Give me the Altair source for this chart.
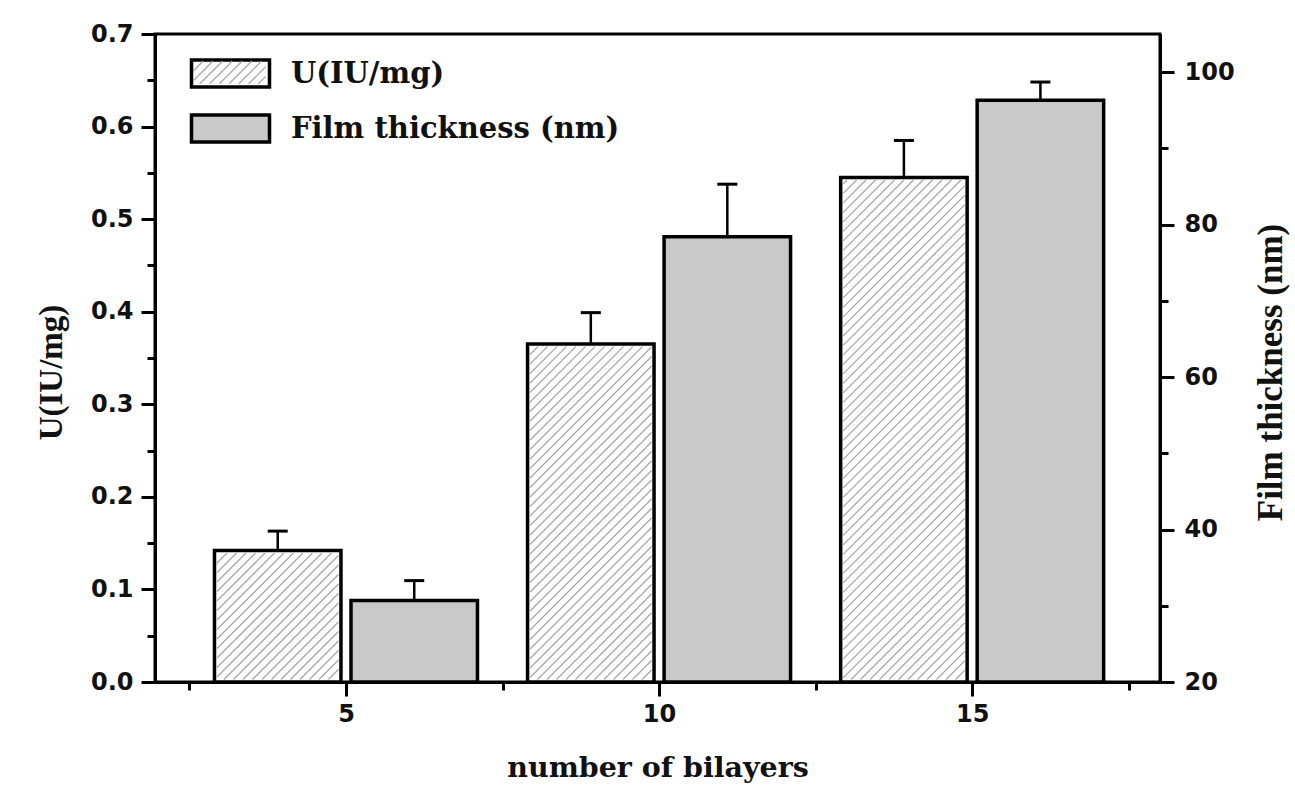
import altair as alt
import numpy as np
import pandas as pd

# ---- data -------------------------------------------------------------
bilayers = [5, 10, 15]
activity = [0.142, 0.365, 0.545]          # U (IU/mg)
activity_err = [0.021, 0.034, 0.040]
thickness = [30.7, 78.4, 96.3]            # film thickness (nm)
thickness_err = [2.6, 6.9, 2.4]

series_names = ["U(IU/mg)", "Film thickness (nm)"]

x_major = [5, 10, 15]
x_minor = [2.5, 7.5, 12.5, 17.5]
u_major = [0.0, 0.1, 0.2, 0.3, 0.4, 0.5, 0.6, 0.7]
u_minor = [0.05, 0.15, 0.25, 0.35, 0.45, 0.55, 0.65]
t_major = [20, 40, 60, 80, 100]
t_minor = [30, 50, 70, 90]

# ---- layout -----------------------------------------------------------
PLOT_W, PLOT_H = 1005, 648
X_DOMAIN = [1.95, 18.0]
U_DOMAIN = [0.0, 0.7]
T_DOMAIN = [20.0, 105.0]
BAR_NEAR, BAR_FAR = 0.08, 2.10   # bar edges, measured from the group position
CAP_HALF = 0.16

GRAY = "#c9c9c9"
HATCH = "#a8a8a8"
INK = "#111111"

px_x = PLOT_W / (X_DOMAIN[1] - X_DOMAIN[0])
px_u = PLOT_H / (U_DOMAIN[1] - U_DOMAIN[0])

u_df = pd.DataFrame({"n": bilayers, "value": activity, "err": activity_err,
                     "series": series_names[0], "pattern": series_names[0]})
t_df = pd.DataFrame({"n": bilayers, "value": thickness, "err": thickness_err,
                     "series": series_names[1]})


def hatch_segments():
    """Diagonal hatch lines clipped to the inside of each U bar."""
    rows = []
    inset, step = 2.5, 9.5
    for n, v in zip(bilayers, activity):
        x0, x1 = n - BAR_FAR, n - BAR_NEAR
        w = (x1 - x0) * px_x
        h = (v - U_DOMAIN[0]) * px_u
        gx = (x0 - X_DOMAIN[0]) * px_x
        for k in range(int(np.floor((gx - h) / step)), int(np.ceil((gx + w) / step)) + 1):
            c = k * step - gx
            xa = max(inset, c + inset)
            xb = min(w - inset, h - inset + c)
            if xb - xa < 0.5:
                continue
            rows.append({"x": x0 + xa / px_x, "x2": x0 + xb / px_x,
                         "y": (xa - c) / px_u, "y2": (xb - c) / px_u})
    return pd.DataFrame(rows)


hatch_df = hatch_segments()

# legend symbols (unit = half of sqrt(symbolSize))
rect_path = "M-2,-0.69H2V0.69H-2Z"


def hatch_path():
    parts = []
    xl, xr, yt = 1.86, 1.86, 0.58
    s = 0.5
    c = -xl - yt
    while c < xr + yt:
        xa = max(-xl, c - yt)
        xb = min(xr, c + yt)
        if xb - xa > 0.03:
            parts.append(f"M{xa:.3f},{c - xa:.3f}L{xb:.3f},{c - xb:.3f}")
        c += s
    return "".join(parts)


# ---- scales / axes ----------------------------------------------------
x_scale = alt.Scale(domain=X_DOMAIN, nice=False, zero=False)
u_scale = alt.Scale(domain=U_DOMAIN, nice=False, zero=False)
t_scale = alt.Scale(domain=T_DOMAIN, nice=False, zero=False)
fill_scale = alt.Scale(domain=series_names, range=["white", GRAY])

AXIS_COMMON = dict(
    grid=False, labelOverlap=False, labelFlush=False,
    labelFont="DejaVu Sans", labelFontWeight="bold", labelFontSize=24, labelColor=INK,
    domainColor="black", domainWidth=3, tickColor="black",
    titleColor=INK, titleFontWeight="bold",
)


def major_minor(test, major, minor):
    return {"condition": {"test": test, "value": major}, "value": minor}


u_test = "abs(datum.value*10 - round(datum.value*10)) < 1e-6"
u_axis = alt.Axis(
    title="U(IU/mg)", orient="left", values=sorted(u_major + u_minor),
    labelExpr=f"{u_test} ? format(datum.value, '.1f') : ''",
    tickSize=major_minor(u_test, 14, 8), tickWidth=major_minor(u_test, 3, 3),
    labelPadding=8, titleFont="Liberation Serif", titleFontSize=33,
    titleAngle=270, titleAlign="center", titleBaseline="middle",
    titleX=-104, titleY=338, **AXIS_COMMON,
)

t_test = "datum.value % 20 == 0"
t_axis = alt.Axis(
    title="Film thickness (nm)", orient="right", values=sorted(t_major + t_minor),
    labelExpr=f"{t_test} ? format(datum.value, 'd') : ''",
    tickSize=major_minor(t_test, 14, 8), tickWidth=major_minor(t_test, 3, 3),
    labelPadding=10, titleFont="Liberation Serif", titleFontSize=35,
    titleAngle=270, titleAlign="center", titleBaseline="middle",
    titleX=110, titleY=338, **AXIS_COMMON,
)

x_test = "datum.value % 5 == 0"
x_axis = alt.Axis(
    title="number of bilayers", orient="bottom", values=sorted(x_major + x_minor),
    labelExpr=f"{x_test} ? format(datum.value, 'd') : ''",
    tickSize=major_minor(x_test, 14, 8), tickWidth=major_minor(x_test, 3, 3),
    labelPadding=6, titleFont="DejaVu Serif", titleFontSize=28.5,
    titleBaseline="middle", titleY=85, **AXIS_COMMON,
)

LEGEND_POS = dict(orient="none", legendX=54, legendY=18, direction="vertical",
                  title=None, padding=0, symbolSize=1521, labelOffset=39,
                  labelFont="DejaVu Serif", labelFontWeight="bold",
                  labelFontSize=29, labelColor=INK, labelLimit=600, rowPadding=13)

fill_legend = alt.Legend(symbolType=rect_path, symbolStrokeColor="black",
                         symbolStrokeWidth=3.5, zindex=0, **LEGEND_POS)
hatch_legend = alt.Legend(labelExpr="''", symbolStrokeColor=HATCH,
                          symbolStrokeWidth=1.3, symbolFillColor="transparent",
                          symbolOpacity=1, zindex=2, **LEGEND_POS)

# ---- U(IU/mg) layers (left axis) ---------------------------------------
u_base = alt.Chart(u_df).transform_calculate(
    left=f"datum.n - {BAR_FAR}", right=f"datum.n - {BAR_NEAR}",
    mid=f"datum.n - {(BAR_FAR + BAR_NEAR) / 2}",
    top="datum.value + datum.err", half="datum.value / 2",
)

# sits under the opaque bars; it only supplies the hatched legend swatch
u_swatch = u_base.mark_point(filled=False, color=HATCH, strokeWidth=1.3, opacity=1, size=4).encode(
    x=alt.X("mid:Q", scale=x_scale, axis=x_axis),
    y=alt.Y("half:Q", scale=u_scale, axis=u_axis),
    shape=alt.Shape("pattern:N", scale=alt.Scale(domain=[series_names[0]], range=[hatch_path()]),
                    legend=hatch_legend),
)

u_bars = u_base.mark_rect(stroke="black", strokeWidth=3.5, strokeJoin="miter").encode(
    x=alt.X("left:Q", scale=x_scale, axis=x_axis),
    x2="right:Q",
    y=alt.Y("value:Q", scale=u_scale, axis=u_axis),
    y2=alt.Y2(datum=0),
    fill=alt.Fill("series:N", scale=fill_scale, legend=fill_legend),
)

u_hatch = alt.Chart(hatch_df).mark_rule(color=HATCH, strokeWidth=1.3).encode(
    x=alt.X("x:Q", scale=x_scale, axis=x_axis),
    x2="x2:Q",
    y=alt.Y("y:Q", scale=u_scale, axis=u_axis),
    y2="y2:Q",
)

u_stem = u_base.mark_rule(color="black", strokeWidth=2.5).encode(
    x=alt.X("mid:Q", scale=x_scale, axis=x_axis),
    y=alt.Y("value:Q", scale=u_scale, axis=u_axis),
    y2="top:Q",
)

u_cap = u_base.transform_calculate(
    cl=f"datum.mid - {CAP_HALF}", cr=f"datum.mid + {CAP_HALF}"
).mark_rule(color="black", strokeWidth=3).encode(
    x=alt.X("cl:Q", scale=x_scale, axis=x_axis),
    x2="cr:Q",
    y=alt.Y("top:Q", scale=u_scale, axis=u_axis),
)

left = alt.layer(u_swatch, u_bars, u_hatch, u_stem, u_cap)

# ---- film thickness layers (right axis) --------------------------------
t_base = alt.Chart(t_df).transform_calculate(
    left=f"datum.n + {BAR_NEAR}", right=f"datum.n + {BAR_FAR}",
    mid=f"datum.n + {(BAR_FAR + BAR_NEAR) / 2}",
    top="datum.value + datum.err",
)

t_bars = t_base.mark_rect(stroke="black", strokeWidth=3.5, strokeJoin="miter").encode(
    x=alt.X("left:Q", scale=x_scale, axis=x_axis),
    x2="right:Q",
    y=alt.Y("value:Q", scale=t_scale, axis=t_axis),
    y2=alt.Y2(datum=T_DOMAIN[0]),
    fill=alt.Fill("series:N", scale=fill_scale, legend=fill_legend),
)

t_stem = t_base.mark_rule(color="black", strokeWidth=2.5).encode(
    x=alt.X("mid:Q", scale=x_scale, axis=x_axis),
    y=alt.Y("value:Q", scale=t_scale, axis=t_axis),
    y2="top:Q",
)

t_cap = t_base.transform_calculate(
    cl=f"datum.mid - {CAP_HALF}", cr=f"datum.mid + {CAP_HALF}"
).mark_rule(color="black", strokeWidth=3).encode(
    x=alt.X("cl:Q", scale=x_scale, axis=x_axis),
    x2="cr:Q",
    y=alt.Y("top:Q", scale=t_scale, axis=t_axis),
)

right = alt.layer(t_bars, t_stem, t_cap)

chart = (
    alt.layer(left, right)
    .resolve_scale(y="independent")
    .properties(
        width=PLOT_W, height=PLOT_H,
        autosize=alt.AutoSizeParams(type="none"),
        padding={"left": 155, "top": 34, "right": 135, "bottom": 108},
        background="white",
    )
    .configure_view(stroke="black", strokeWidth=3)
    .configure_axis(tickWidth=3)
)

chart.save("out.html", embed_options={"renderer": "svg", "actions": False})
